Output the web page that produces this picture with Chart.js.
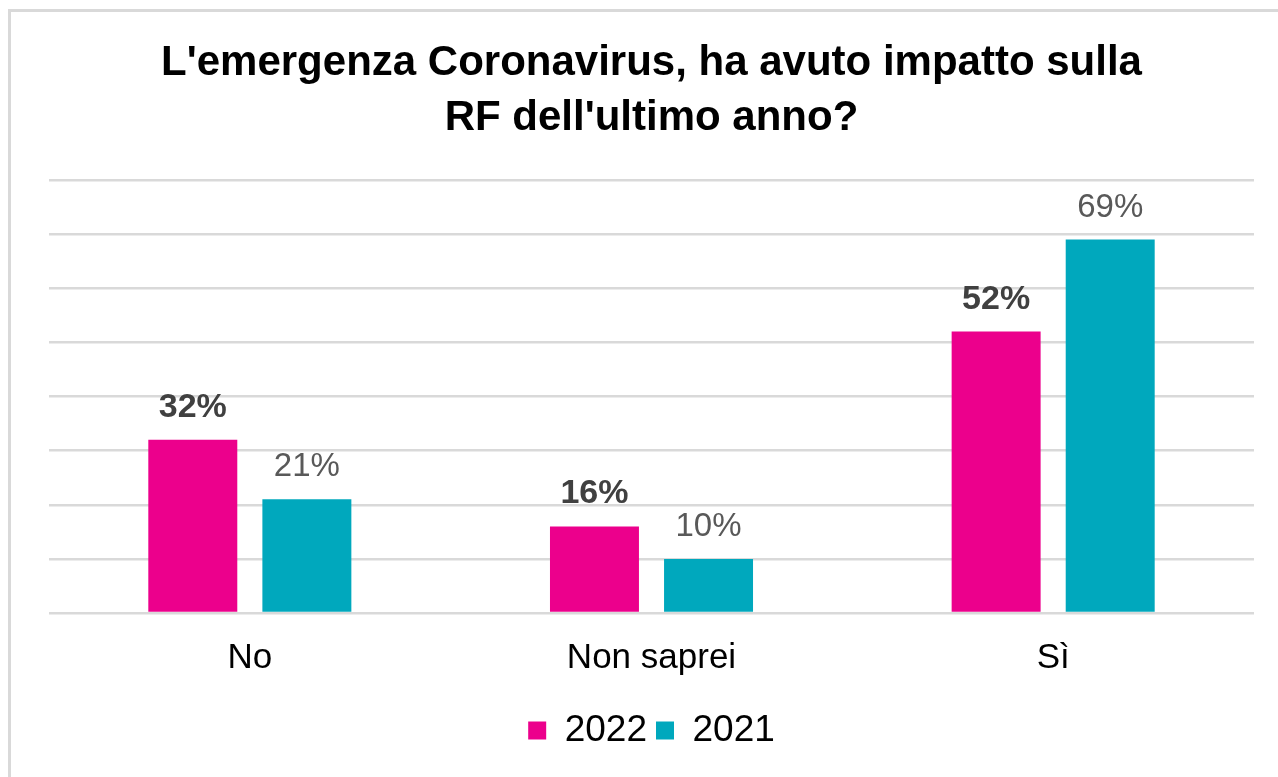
<!DOCTYPE html>
<html lang="it">
<head>
<meta charset="utf-8">
<title>L'emergenza Coronavirus</title>
<script src="https://cdn.jsdelivr.net/npm/chart.js@4/dist/chart.umd.min.js"></script>
<style>
  html, body { margin: 0; padding: 0; background: #fff; }
  body { width: 1278px; height: 777px; overflow: hidden; position: relative; }
  .frame {
    position: absolute; left: 8px; top: 9px; right: -10px; bottom: -10px;
    border-left: 3px solid #d9d9d9; border-top: 3px solid #d9d9d9;
  }
  .chart-box { position: absolute; left: 0; top: 0; width: 1278px; height: 777px; }
</style>
</head>
<body>
<div class="frame"></div>
<div class="chart-box"><canvas id="chart"></canvas></div>
<script>
// --- data ---
const categories = ['No', 'Non saprei', 'Sì'];
const values2022 = [32, 16, 52];
const values2021 = [21, 10, 69];
const seriesNames = ['2022', '2021'];
const titleLines = ["L'emergenza Coronavirus, ha avuto impatto sulla", "RF dell'ultimo anno?"];

const FONT = "'Liberation Sans', Arial, Helvetica, sans-serif";
const PINK = '#EC008C';
const TEAL = '#00A8BD';

// value labels above the bars (2022 bold, 2021 regular)
const barLabels = {
  id: 'barLabels',
  afterDatasetsDraw(chart) {
    const ctx = chart.ctx;
    ctx.save();
    ctx.textAlign = 'center';
    ctx.textBaseline = 'alphabetic';
    chart.data.datasets.forEach((ds, i) => {
      const meta = chart.getDatasetMeta(i);
      const bold = i === 0;
      ctx.font = (bold ? 'bold 34px ' : '33px ') + FONT;
      ctx.fillStyle = bold ? '#404040' : '#595959';
      meta.data.forEach((bar, j) => {
        ctx.fillText(ds.data[j] + '%', bar.x, bar.y - 23);
      });
    });
    ctx.restore();
  }
};

new Chart(document.getElementById('chart'), {
  type: 'bar',
  data: {
    labels: categories,
    datasets: [
      { label: seriesNames[0], data: values2022, backgroundColor: PINK, barPercentage: 0.78, categoryPercentage: 0.568 },
      { label: seriesNames[1], data: values2021, backgroundColor: TEAL, barPercentage: 0.78, categoryPercentage: 0.568 }
    ]
  },
  options: {
    responsive: true,
    maintainAspectRatio: false,
    animation: false,
    layout: { padding: { left: 49, right: 24, top: 18, bottom: 18 } },
    plugins: {
      title: {
        display: true,
        text: titleLines,
        color: '#000',
        font: { family: FONT, size: 42, weight: 'bold', lineHeight: 1.31 },
        padding: { top: 18, bottom: 34 }
      },
      legend: {
        display: true,
        position: 'bottom',
        labels: {
          color: '#000',
          font: { family: FONT, size: 37 },
          boxWidth: 18,
          boxHeight: 18,
          padding: 9
        }
      },
      tooltip: { enabled: false }
    },
    scales: {
      x: {
        grid: { display: false, drawTicks: false },
        border: { display: false },
        ticks: { color: '#000', font: { family: FONT, size: 35, lineHeight: '38px' }, padding: 26 }
      },
      y: {
        min: 0,
        max: 80,
        border: { display: false },
        grid: { color: '#d9d9d9', lineWidth: 2.5, drawTicks: false },
        ticks: { display: false, stepSize: 10 },
        afterFit(scale) { scale.width = 0; }
      }
    }
  },
  plugins: [barLabels]
});
</script>
</body>
</html>
